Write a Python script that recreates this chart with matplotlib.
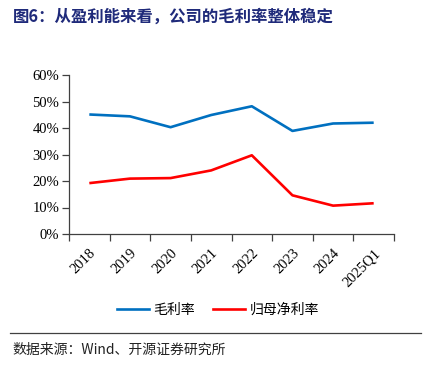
import matplotlib.pyplot as plt
import numpy as np
from matplotlib.lines import Line2D

categories = ['2018', '2019', '2020', '2021', '2022', '2023', '2024', '2025Q1']
gross_margin = [45.1, 44.4, 40.3, 44.9, 48.2, 38.9, 41.7, 42.0]
net_margin = [19.2, 20.9, 21.1, 24.0, 29.7, 14.6, 10.7, 11.6]
yticks = [0, 10, 20, 30, 40, 50, 60]

serif = ['Liberation Serif', 'Noto Sans CJK SC']
cjk = ['Noto Sans CJK SC', 'DejaVu Sans']

fig = plt.figure(figsize=(4.3, 3.71), dpi=100)
ax = fig.add_axes([69 / 430, 1 - 234 / 371, (394 - 69) / 430, (234 - 75) / 371])

x = np.arange(len(categories))
ax.plot(x, gross_margin, color='#0070C0', lw=1.9, solid_capstyle='butt')
ax.plot(x, net_margin, color='#FF0000', lw=1.9, solid_capstyle='butt')

ax.set_xlim(-0.5, len(categories) - 0.5)
ax.set_ylim(0, 60)
ax.set_yticks(yticks)
ax.set_yticklabels([f'{v}%' for v in yticks], family=serif, fontsize=10.5)
ax.set_xticks(x)
ax.set_xticklabels(categories, family=serif, fontsize=10.5, rotation=45,
                   ha='right', va='top', rotation_mode='anchor')
ax.set_xticks(np.arange(-0.5, len(categories)), minor=True)
ax.tick_params(axis='x', which='major', length=0, pad=9)
ax.tick_params(axis='x', which='minor', length=5, color='#404040', width=0.9)
ax.tick_params(axis='y', length=5, color='#404040', width=0.9, pad=2)
for s in ['top', 'right']:
    ax.spines[s].set_visible(False)
for s in ['left', 'bottom']:
    ax.spines[s].set_color('#404040')
    ax.spines[s].set_linewidth(0.9)

# title
fig.text(13 / 430, 1 - 17 / 371, '图6：从盈利能来看，公司的毛利率整体稳定',
         family=cjk, fontsize=11.8, fontweight='bold', color='#1F2A7A',
         va='center', ha='left')

# legend
handles = [Line2D([], [], color='#0070C0', lw=1.9),
           Line2D([], [], color='#FF0000', lw=1.9)]
fig.legend(handles, ['毛利率', '归母净利率'], loc='center',
           bbox_to_anchor=(218 / 430, 1 - 310 / 371), ncol=2, frameon=False,
           prop={'family': cjk, 'size': 10}, handlelength=2.3,
           columnspacing=1.3, handletextpad=0.35)

# separator line and source
fig.add_artist(Line2D([10 / 430, 421 / 430], [1 - 333 / 371, 1 - 333 / 371],
                      color='#404040', lw=0.9))
fig.text(12 / 430, 1 - 350 / 371, '数据来源：Wind、开源证券研究所',
         family=['Noto Sans CJK SC', 'DejaVu Sans'], fontsize=10,
         color='#222222', va='center', ha='left')

fig.savefig('out.png', dpi=100, facecolor='white')
